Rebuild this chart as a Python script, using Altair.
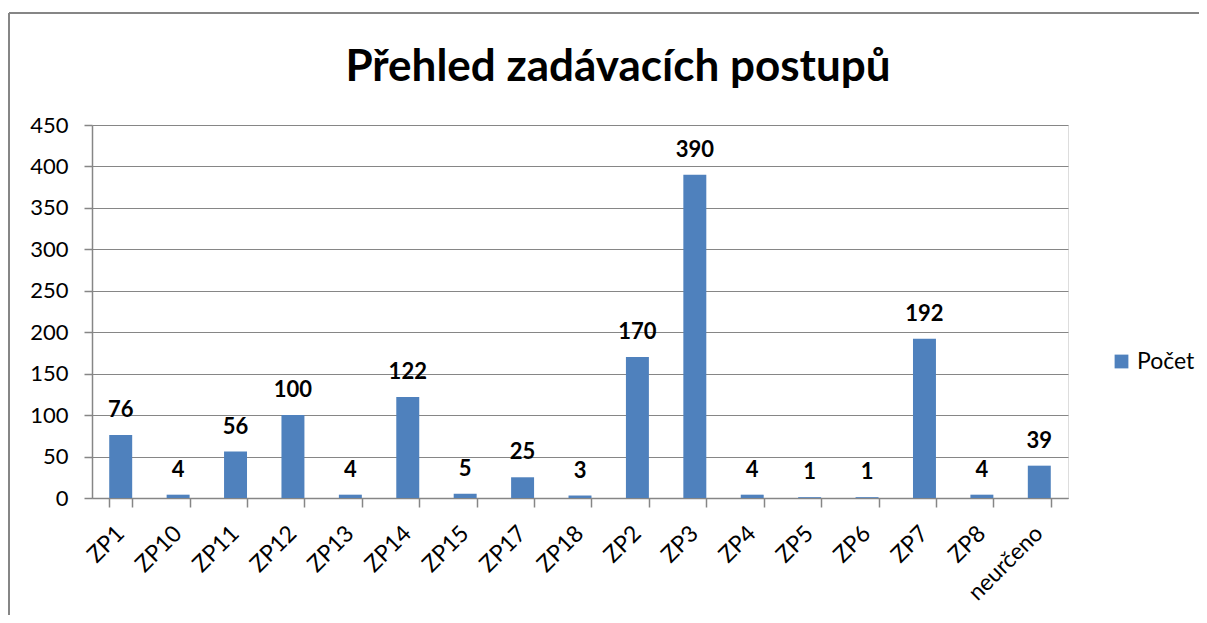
import altair as alt
import pandas as pd

categories = ["ZP1", "ZP10", "ZP11", "ZP12", "ZP13", "ZP14", "ZP15", "ZP17", "ZP18",
              "ZP2", "ZP3", "ZP4", "ZP5", "ZP6", "ZP7", "ZP8", "neurčeno"]
values = [76, 4, 56, 100, 4, 122, 5, 25, 3, 170, 390, 4, 1, 1, 192, 4, 39]
series_name = "Počet"
title_text = "Přehled zadávacích postupů"
y_ticks = list(range(0, 451, 50))

df = pd.DataFrame({"kat": categories, "pocet": values, "serie": [series_name] * len(values)})

FONT = "Lato"
GRAY = "#868686"
BLUE = "#4F81BD"

x_scale = alt.Scale(paddingInner=0.6, paddingOuter=0.3)
x_enc = alt.X("kat:N", sort=categories, title=None, scale=x_scale,
              axis=alt.Axis(labels=False, tickBand="extent", tickSize=9, tickColor=GRAY,
                            domainColor=GRAY, domainWidth=1.5, tickWidth=1.5, grid=False))
y_enc = alt.Y("pocet:Q", title=None,
              scale=alt.Scale(domain=[0, 450], nice=False),
              axis=alt.Axis(values=y_ticks, labelFontSize=22, labelFont=FONT, labelColor="#000",
                            tickSize=8, tickColor=GRAY, domainColor=GRAY, domainWidth=1.5,
                            tickWidth=1.5, gridColor=GRAY, gridWidth=1.2, labelPadding=16))

bars = alt.Chart(df).mark_bar(color=BLUE).encode(
    x=x_enc, y=y_enc,
    color=alt.Color("serie:N", scale=alt.Scale(range=[BLUE]),
                    legend=alt.Legend(title=None, orient="none", legendX=1018, legendY=225,
                                      symbolType="square", symbolSize=190, symbolStrokeWidth=0,
                                      labelFontSize=23, labelFont=FONT, labelColor="#000"))
)

labels = alt.Chart(df).mark_text(font=FONT, fontSize=22, fontWeight="bold", color="#000",
                                 baseline="alphabetic", dy=-18).encode(
    x=alt.X("kat:N", sort=categories), y="pocet:Q", text="pocet:Q"
)

cat_labels = alt.Chart(df).mark_text(font=FONT, fontSize=23, color="#000", angle=315,
                                     align="right", baseline="middle").encode(
    x=alt.X("kat:N", sort=categories), y=alt.value(405), text="kat:N"
)

title_df = pd.DataFrame({"t": [title_text]})
title = alt.Chart(title_df).mark_text(font=FONT, fontSize=44, fontWeight="bold", color="#000",
                                      align="center", baseline="alphabetic").encode(
    text="t:N", x=alt.value(526), y=alt.value(-44))

frame_df = pd.DataFrame({"a": [0]})
frame_top = alt.Chart(frame_df).mark_rule(color=GRAY, strokeWidth=2).encode(
    x=alt.value(-83), x2=alt.value(1200), y=alt.value(-112))
frame_left = alt.Chart(frame_df).mark_rule(color=GRAY, strokeWidth=2).encode(
    x=alt.value(-83), y=alt.value(-112), y2=alt.value(600))

chart = alt.layer(frame_top, frame_left, bars, labels, cat_labels, title).properties(
    width=976, height=373,
    autosize=alt.AutoSizeParams(type="none"),
    padding={"left": 84, "top": 117, "right": 131, "bottom": 117},
).configure_view(stroke=None).configure(background="white")

chart.save("out.html", embed_options={"renderer": "svg", "actions": False})
